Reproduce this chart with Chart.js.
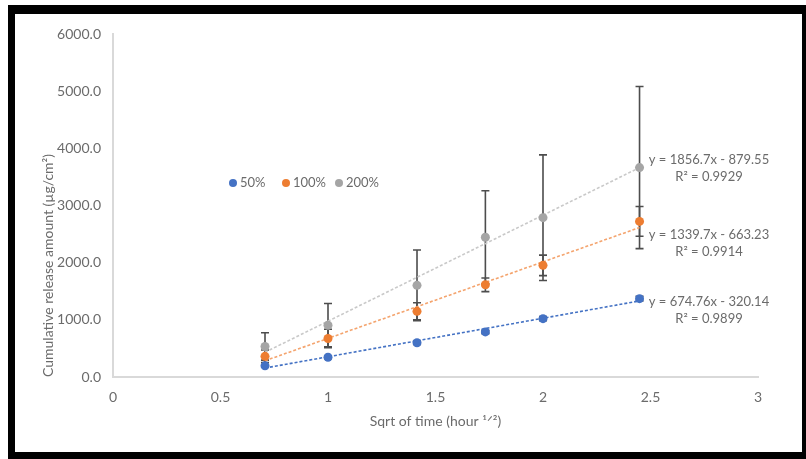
<!DOCTYPE html>
<html>
<head>
<meta charset="utf-8">
<script src="https://cdn.jsdelivr.net/npm/chart.js@4"></script>
<style>
  html, body { margin: 0; padding: 0; background: #fff; }
  #frame {
    position: absolute; left: 8px; top: 5px;
    width: 787px; height: 438px;
    border-style: solid; border-color: #000;
    border-width: 9px 4px 7px 7px;
    background: #fff;
  }
  #chart1 { display: block; }
</style>
</head>
<body>
<div id="frame"><canvas id="chart1" width="787" height="438"></canvas></div>
<script>
// data
var xValues = [0.707, 1, 1.414, 1.732, 2, 2.449];
var series50 = [195, 345, 600, 790, 1022, 1372];
var series100 = [362, 675, 1150, 1615, 1955, 2725];
var series200 = [535, 907, 1605, 2448, 2790, 3668];
var err50 = [20, 25, 30, 30, 35, 40];
var err100 = [110, 160, 150, 120, 180, 260];
var err200 = [240, 380, 620, 815, 1100, 1420];
var trendSlope = [674.76, 1339.7, 1856.7];
var trendIntercept = [-320.14, -663.23, -879.55];
var trendText = [
  ["y = 674.76x - 320.14", "R\u00b2 = 0.9899"],
  ["y = 1339.7x - 663.23", "R\u00b2 = 0.9914"],
  ["y = 1856.7x - 879.55", "R\u00b2 = 0.9929"]
];
var seriesNames = ["50%", "100%", "200%"];
var xTicks = [0, 0.5, 1, 1.5, 2, 2.5, 3];

var colors = ["#4472C4", "#ED7D31", "#A5A5A5"];
var trendColors = ["#4472C4", "#F4A46E", "#C9C9C9"];
var allSeries = [series50, series100, series200];
var allErr = [err50, err100, err200];
var FONT = "Lato, 'Open Sans', sans-serif";
var TEXT = "#6b6b6b";

function toPoints(ys) {
  return xValues.map(function (x, i) { return { x: x, y: ys[i] }; });
}

var datasets = [];
allSeries.forEach(function (ys, k) {
  datasets.push({
    type: "scatter",
    label: seriesNames[k],
    data: toPoints(ys),
    backgroundColor: colors[k],
    borderColor: colors[k],
    pointRadius: 4.5,
    borderWidth: 0,
    order: 1
  });
});
// linear trendlines from the equations shown on the chart
allSeries.forEach(function (ys, k) {
  var x0 = xValues[0], x1 = xValues[xValues.length - 1];
  datasets.push({
    type: "line",
    label: "trend " + seriesNames[k],
    data: [
      { x: x0, y: trendSlope[k] * x0 + trendIntercept[k] },
      { x: x1, y: trendSlope[k] * x1 + trendIntercept[k] }
    ],
    borderColor: trendColors[k],
    borderWidth: 1.6,
    borderDash: [3, 2],
    pointRadius: 0,
    fill: false,
    order: 3
  });
});

// error bars (drawn through the chart scales, under the markers)
var errorBarPlugin = {
  id: "errorBars",
  beforeDatasetsDraw: function (chart) {
    var ctx = chart.ctx;
    var xs = chart.scales.x, ys = chart.scales.y;
    ctx.save();
    ctx.strokeStyle = "#4d4d4d";
    ctx.lineWidth = 1.6;
    [2, 1, 0].forEach(function (k) {
      var errs = allErr[k];
      allSeries[k].forEach(function (v, i) {
        var px = xs.getPixelForValue(xValues[i]);
        var top = ys.getPixelForValue(v + errs[i]);
        var bot = ys.getPixelForValue(v - errs[i]);
        ctx.beginPath();
        ctx.moveTo(px, top); ctx.lineTo(px, bot);
        ctx.moveTo(px - 4, top); ctx.lineTo(px + 4, top);
        ctx.moveTo(px - 4, bot); ctx.lineTo(px + 4, bot);
        ctx.stroke();
      });
    });
    ctx.restore();
  }
};

// legend + trendline labels
var labelPlugin = {
  id: "labels",
  afterDraw: function (chart) {
    var ctx = chart.ctx;
    var a = chart.chartArea;
    ctx.save();
    // legend
    ctx.font = "13px " + FONT;
    ctx.textBaseline = "middle";
    var lx = a.left + 120, ly = 169;
    seriesNames.forEach(function (name, k) {
      ctx.fillStyle = colors[k];
      ctx.beginPath();
      ctx.arc(lx, ly, 4, 0, Math.PI * 2);
      ctx.fill();
      ctx.fillStyle = TEXT;
      ctx.textAlign = "left";
      ctx.fillText(name, lx + 7, ly);
      lx += 53;
    });
    // equations
    ctx.textAlign = "center";
    var eqX = 694;
    var eqY = [288, 221, 146];
    trendText.forEach(function (lines, k) {
      ctx.fillText(lines[0], eqX, eqY[k]);
      ctx.fillText(lines[1], eqX, eqY[k] + 17);
    });
    ctx.restore();
  }
};

var chart1 = new Chart(document.getElementById("chart1"), {
  type: "scatter",
  data: { datasets: datasets },
  plugins: [errorBarPlugin, labelPlugin],
  options: {
    responsive: false,
    animation: false,
    layout: { padding: { top: 19, right: 44, left: 0, bottom: 0 } },
    plugins: { legend: { display: false }, tooltip: { enabled: false } },
    scales: {
      x: {
        type: "linear",
        min: 0, max: 3,
        afterBuildTicks: function (scale) {
          scale.ticks = xTicks.map(function (v) { return { value: v }; });
        },
        afterFit: function (scale) { scale.height = 75; },
        grid: { display: false, drawTicks: false },
        border: { display: true, color: "#d9d9d9", width: 2 },
        ticks: {
          color: TEXT,
          font: { family: FONT, size: 14 },
          padding: 12,
          callback: function (v) { return String(v); }
        },
        title: {
          display: true,
          text: "Sqrt of time (hour \u00b9\u141f\u00b2)",
          color: TEXT,
          font: { family: FONT, size: 14 },
          padding: { top: 0, bottom: 22 }
        }
      },
      y: {
        type: "linear",
        min: 0, max: 6000,
        afterFit: function (scale) { scale.width = 98; },
        grid: { display: false, drawTicks: false },
        border: { display: true, color: "#d9d9d9", width: 2 },
        ticks: {
          stepSize: 1000,
          color: TEXT,
          font: { family: FONT, size: 14 },
          padding: 12,
          callback: function (v) { return v.toFixed(1); }
        },
        title: {
          display: true,
          align: "start",
          text: "Cumulative release amount (\u00b5g/cm\u00b2)",
          color: TEXT,
          font: { family: FONT, size: 14 },
          padding: { top: 25, bottom: 0 }
        }
      }
    }
  }
});
</script>
</body>
</html>
